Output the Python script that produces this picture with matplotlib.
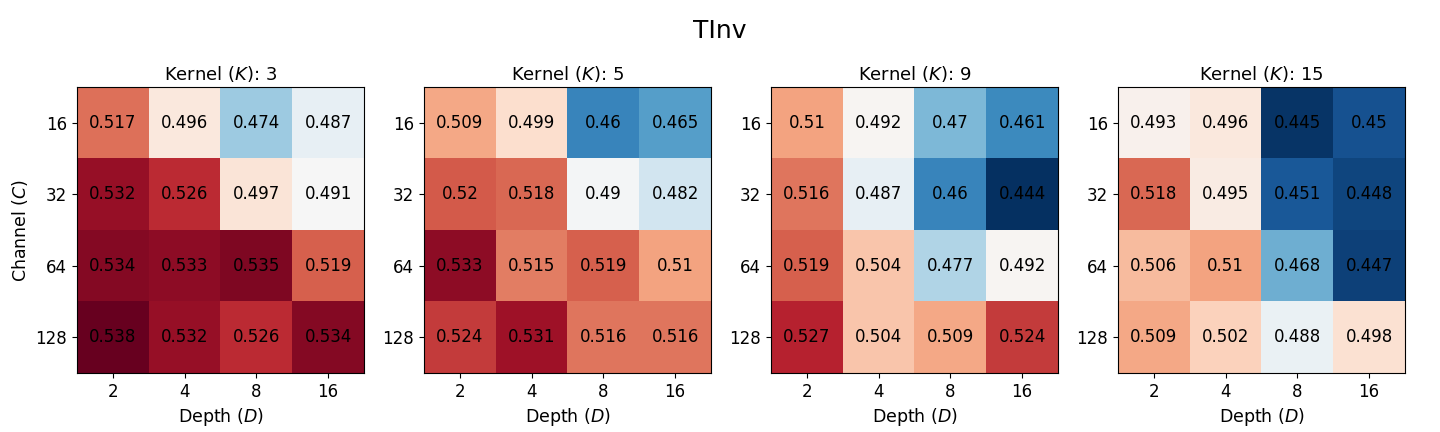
import numpy as np
import matplotlib.pyplot as plt

# TInv heatmaps, one per kernel size
kernels = [3, 5, 9, 15]
depths = [2, 4, 8, 16]
channels = [16, 32, 64, 128]

k3 = [[0.517, 0.496, 0.474, 0.487],
      [0.532, 0.526, 0.497, 0.491],
      [0.534, 0.533, 0.535, 0.519],
      [0.538, 0.532, 0.526, 0.534]]
k5 = [[0.509, 0.499, 0.46, 0.465],
      [0.52, 0.518, 0.49, 0.482],
      [0.533, 0.515, 0.519, 0.51],
      [0.524, 0.531, 0.516, 0.516]]
k9 = [[0.51, 0.492, 0.47, 0.461],
      [0.516, 0.487, 0.46, 0.444],
      [0.519, 0.504, 0.477, 0.492],
      [0.527, 0.504, 0.509, 0.524]]
k15 = [[0.493, 0.496, 0.445, 0.45],
       [0.518, 0.495, 0.451, 0.448],
       [0.506, 0.51, 0.468, 0.447],
       [0.509, 0.502, 0.488, 0.498]]

tables = [k3, k5, k9, k15]
vmin = min(np.min(t) for t in tables)
vmax = max(np.max(t) for t in tables)

fig = plt.figure(figsize=(14.4, 4.32), dpi=100)
fig.suptitle('TInv', fontsize=18, y=0.955)

w = 287 / 1440
h = 286 / 432
for i, (k, t) in enumerate(zip(kernels, tables)):
    ax = fig.add_axes([(77 + 347 * i) / 1440, 1 - 373 / 432, w, h])
    t = np.array(t)
    ax.imshow(t, cmap='RdBu_r', vmin=vmin, vmax=vmax, aspect='auto')
    for r in range(t.shape[0]):
        for c in range(t.shape[1]):
            ax.text(c, r, '%g' % t[r, c], ha='center', va='center', fontsize=12)
    ax.set_xticks(range(len(depths)))
    ax.set_xticklabels(depths, fontsize=12)
    ax.set_yticks(range(len(channels)))
    ax.set_yticklabels(channels, fontsize=12)
    ax.set_xlabel(r'Depth ($D$)', fontsize=12.5)
    if i == 0:
        ax.set_ylabel(r'Channel ($C$)', fontsize=12.5)
    ax.set_title(r'Kernel ($K$): %d' % k, fontsize=13, pad=5)

plt.savefig('out.png', dpi=100)
